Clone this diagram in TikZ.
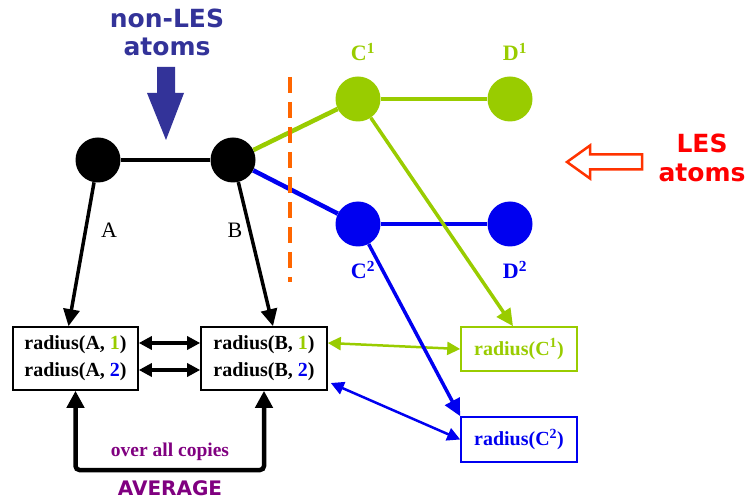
\documentclass[tikz,border=0pt]{standalone}
\usepackage{fontspec}
\setmainfont{Liberation Serif}
\newfontfamily\headfont{DejaVu Sans}
\usetikzlibrary{arrows.meta}
\definecolor{lesgreen}{HTML}{99CC00}
\definecolor{lesblue}{HTML}{0000F0}
\definecolor{nonlesblue}{HTML}{333399}
\definecolor{lesred}{HTML}{FF0000}
\definecolor{hollowred}{HTML}{FF3300}
\definecolor{cutorange}{HTML}{FF6600}
\definecolor{avgpurple}{HTML}{800080}

\begin{document}
\begin{tikzpicture}[x=1pt, y=-1pt, atom/.style={circle, minimum size=45pt, inner sep=0pt}, rbox/.style={draw, line width=1.6pt, fill=white, align=center, inner sep=0pt, font=\fontsize{20}{27}\selectfont\bfseries}, lbl/.style={font=\fontsize{22}{22}\selectfont\bfseries}, head/.style={font=\fontsize{25}{28}\selectfont\headfont\bfseries, align=center}, dbl/.style={{Triangle[length=13pt,width=13pt]}-{Triangle[length=13pt,width=13pt]}}, onetip/.style={-{Triangle[length=17pt,width=16pt]}}]
	\useasboundingbox (0,0) rectangle (749,502);
	% atoms
	\node[atom, fill=black] (A) at (98,160) {};
	\node[atom, fill=black] (B) at (233,160) {};
	\foreach \n/\y/\c in {1/99/lesgreen, 2/224/lesblue} {
		\node[atom, fill=\c] (C\n) at (358,\y) {};
		\node[atom, fill=\c] (D\n) at (510,\y) {};
		\draw[\c, line width=4.5pt] (C\n) -- (D\n);
	}
	\draw[line width=4.5pt] (A) -- (B);
	\draw[lesgreen, line width=4.5pt] (B) -- (C1);
	\draw[lesblue, line width=4.5pt] (B) -- (C2);
	\draw[cutorange, line width=3.5pt, dash pattern=on 16pt off 9pt] (290,77) -- (290,282);
	% labels
	\node[font=\fontsize{22}{22}\selectfont] (labA) at (109,230) {A};
	\node[font=\fontsize{22}{22}\selectfont] (labB) at (235,230) {B};
	\node[lbl, lesgreen] (labC1) at (363,52) {C\textsuperscript{1}};
	\node[lbl, lesgreen] (labD1) at (515,52) {D\textsuperscript{1}};
	\node[lbl, lesblue] (labC2) at (363,270) {C\textsuperscript{2}};
	\node[lbl, lesblue] (labD2) at (515,270) {D\textsuperscript{2}};
	\node[head, nonlesblue] (nonles) at (167,32) {non-LES\\atoms};
	\node[head, lesred] (les) at (702,158) {LES\\[1pt]atoms};
	\fill[nonlesblue] (157,67) -- (175,67) -- (175,93) -- (184,93) -- (166,140) -- (147,93) -- (157,93) -- cycle;
	\draw[hollowred, line width=2.5pt, fill=white] (567,162) -- (590,145.5) -- (590,154.5) -- (642,154.5) -- (642,169.5) -- (590,169.5) -- (590,178.5) -- cycle;
	% radius boxes
	\node[rbox, minimum width=125pt, minimum height=63pt] (bA) at (75.5,358.5) {radius(A, \textcolor{lesgreen}{1})\\radius(A, \textcolor{lesblue}{2})};
	\node[rbox, minimum width=126pt, minimum height=63pt] (bB) at (264,358.5) {radius(B, \textcolor{lesgreen}{1})\\radius(B, \textcolor{lesblue}{2})};
	\node[rbox, draw=lesgreen, text=lesgreen, minimum width=116pt, minimum height=44pt] (bC1) at (519,349) {radius(C\textsuperscript{1})};
	\node[rbox, draw=lesblue, text=lesblue, minimum width=116pt, minimum height=45pt] (bC2) at (519,439.5) {radius(C\textsuperscript{2})};
	% connectors
	\draw[onetip, line width=3.5pt] (A) -- ([xshift=-7pt]bA.north);
	\draw[onetip, line width=3.5pt] (B) -- ([xshift=9pt]bB.north);
	\foreach \s in {15.5,-11.5} {\draw[dbl, line width=4pt] ([yshift=\s]bA.east) -- ([yshift=\s]bB.west);}
	\draw[lesgreen, dbl, line width=2.5pt] ([yshift=15.5]bB.east) -- (bC1.west);
	\draw[lesblue, dbl, line width=2.5pt] ([xshift=3pt, yshift=-24.5]bB.east) -- (bC2.west);
	\draw[lesgreen, onetip, line width=3.5pt] (C1) -- ([xshift=-6pt]bC1.north);
	\draw[lesblue, onetip, line width=3.5pt] (C2) -- (bC2.north west);
	\draw[{Triangle[length=17pt,width=17pt]}-{Triangle[length=17pt,width=17pt]}, line width=4.5pt, rounded corners=4pt] (bA.south) -- (75.5,470) -| (bB.south);
	\node[avgpurple, font=\fontsize{19.5}{20}\selectfont\bfseries] (copies) at (170,452) {over all copies};
	\node[avgpurple, font=\fontsize{20}{20}\selectfont\headfont\bfseries] (avg) at (170,488) {AVERAGE};
\end{tikzpicture}
\end{document}
